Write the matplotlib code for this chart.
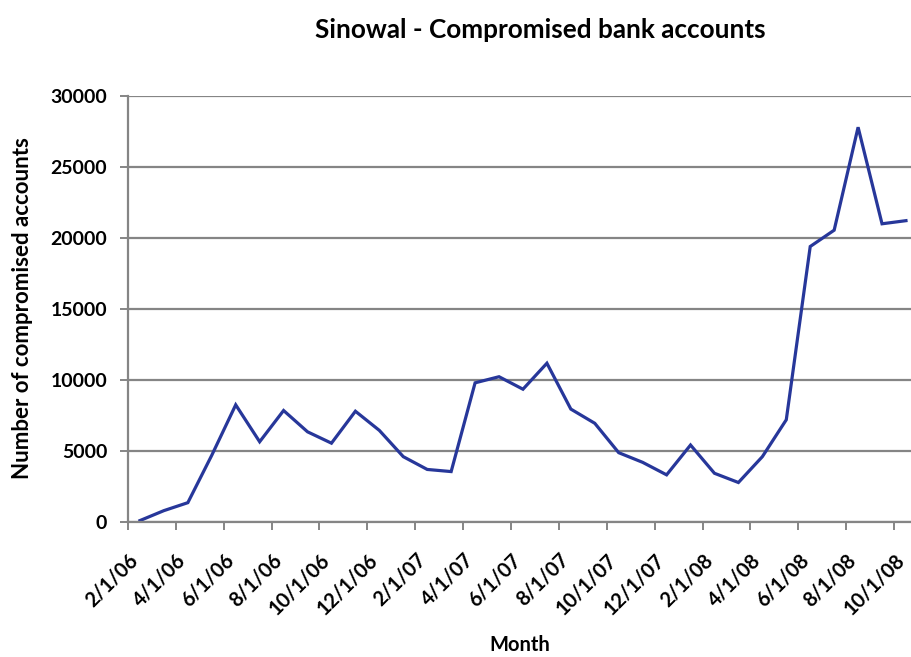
#!/usr/bin/env python3
"""Sinowal - compromised bank accounts per month (line chart)."""

import matplotlib
matplotlib.use("Agg")
import matplotlib.pyplot as plt
import matplotlib.transforms as mtransforms
import numpy as np

# monthly counts, Feb 2006 .. Oct 2008
months = [
    "2/1/06", "3/1/06", "4/1/06", "5/1/06", "6/1/06", "7/1/06", "8/1/06",
    "9/1/06", "10/1/06", "11/1/06", "12/1/06", "1/1/07", "2/1/07", "3/1/07",
    "4/1/07", "5/1/07", "6/1/07", "7/1/07", "8/1/07", "9/1/07", "10/1/07",
    "11/1/07", "12/1/07", "1/1/08", "2/1/08", "3/1/08", "4/1/08", "5/1/08",
    "6/1/08", "7/1/08", "8/1/08", "9/1/08", "10/1/08",
]
accounts = [
    100, 800, 1360, 4700, 8250, 5650, 7850,
    6350, 5550, 7800, 6450, 4600, 3700, 3550,
    9800, 10230, 9350, 11180, 7950, 6950, 4880,
    4200, 3320, 5420, 3430, 2780, 4600, 7200,
    19400, 20550, 27800, 21000, 21220,
]
y_ticks = [0, 5000, 10000, 15000, 20000, 25000, 30000]

LINE_COLOR = "#27379a"
GRID_COLOR = "#858585"

plt.rcParams["font.family"] = ["Lato", "DejaVu Sans"]
plt.rcParams["font.weight"] = "bold"

fig = plt.figure(figsize=(9.11, 6.57), dpi=100)
ax = fig.add_axes([0.1405, 0.2055, 0.8595, 0.6484])

x = np.arange(len(months))
ax.plot(x, accounts, color=LINE_COLOR, linewidth=2.3, solid_joinstyle="miter")

ax.set_yticks(y_ticks)
ax.set_yticklabels([str(v) for v in y_ticks], fontsize=14, fontweight="bold")
ax.yaxis.grid(True, color=GRID_COLOR, linewidth=1.6)
ax.set_axisbelow(True)

# labels on every second month, placed at the category boundary tick marks
ax.set_xticks(x[::2] - 0.5)
ax.set_xticklabels(months[::2], rotation=45, ha="right", rotation_mode="anchor",
                   fontsize=14.5, fontweight="bold")
shift = mtransforms.ScaledTranslation(-5.3 / 100, 0, fig.dpi_scale_trans)
for lbl in ax.get_xticklabels():
    lbl.set_transform(lbl.get_transform() + shift)
ax.tick_params(axis="x", length=6, width=1.4, color=GRID_COLOR, direction="out", pad=14)
ax.tick_params(axis="y", length=6, width=1.4, color=GRID_COLOR, pad=9)

ax.set_ylim(0, 30000)
ax.set_xlim(-0.5, 32.21)

for side in ("top", "right"):
    ax.spines[side].set_visible(False)
for side in ("left", "bottom"):
    ax.spines[side].set_color(GRID_COLOR)
    ax.spines[side].set_linewidth(1.6)

fig.text(0.593, 0.955, "Sinowal - Compromised bank accounts", ha="center", va="center",
         fontsize=18.8, fontweight="bold")
fig.text(0.025, 0.531, "Number of compromised accounts", rotation=90, ha="center",
         va="center", fontsize=16, fontweight="bold")
fig.text(0.571, 0.018, "Month", ha="center", va="center", fontsize=14.5, fontweight="bold")

fig.savefig("out.png", dpi=100)
